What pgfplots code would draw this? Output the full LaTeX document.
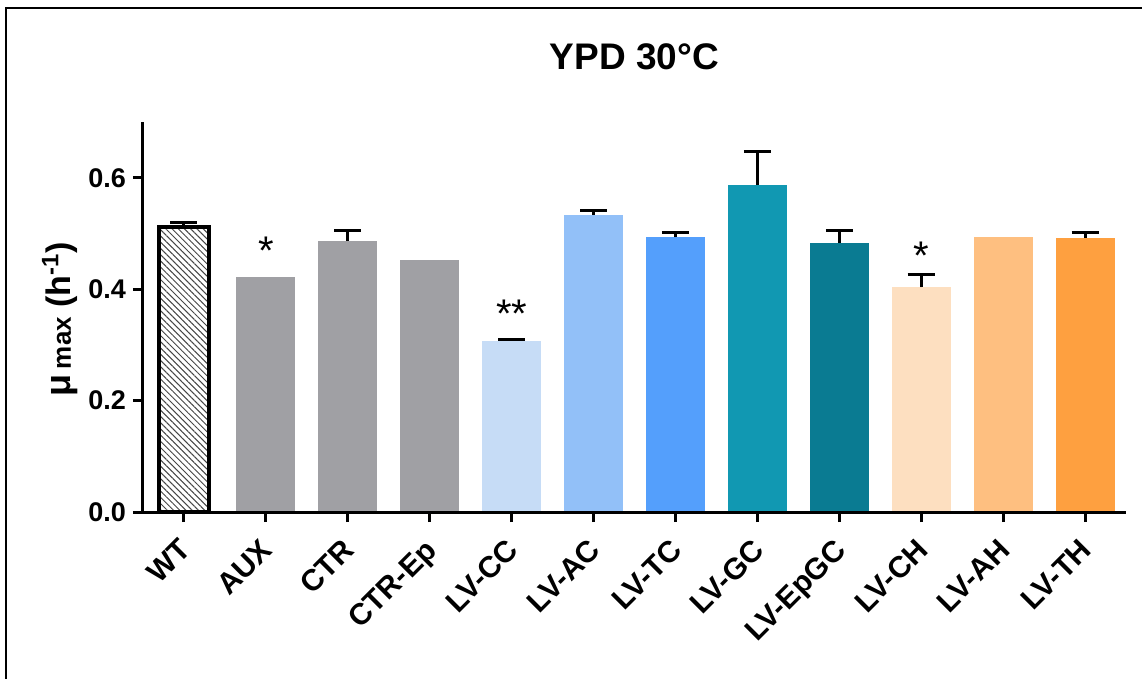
\documentclass[border=0pt]{standalone}
\usepackage{fontspec}
\setmainfont{Liberation Sans}
\usepackage{pgfplots}
\pgfplotsset{compat=1.18}
\usetikzlibrary{patterns.meta}

\definecolor{cGray}{RGB}{160,160,164}
\definecolor{cCC}{RGB}{198,220,246}
\definecolor{cAC}{RGB}{146,192,248}
\definecolor{cTC}{RGB}{84,159,252}
\definecolor{cGC}{RGB}{17,152,178}
\definecolor{cEpGC}{RGB}{10,123,146}
\definecolor{cCH}{RGB}{253,223,192}
\definecolor{cAH}{RGB}{254,191,128}
\definecolor{cTH}{RGB}{254,160,64}
\definecolor{hatch}{RGB}{70,70,70}

\pgfplotsset{
  onebar/.style={ybar, bar width=0.72, bar shift=0pt, draw=none},
  witherr/.style={
    error bars/.cd,
      y dir=plus, y explicit,
      error mark=|,
      error bar style={line width=1.5pt, black},
      error mark options={line width=1.5pt, black, mark size=6.75pt},
  },
}

\begin{document}
\begin{tikzpicture}
\begin{axis}[
  at={(71.5pt,-256pt)}, anchor=south west,
  scale only axis, width=491.5pt, height=195pt,
  xmin=-0.5, xmax=11.5, ymin=0, ymax=0.7,
  axis x line*=bottom, axis y line*=left,
  axis line style={line width=1.5pt, black, -},
  every tick/.style={line width=1.5pt, black},
  tick align=outside, major tick length=5pt,
  xtick={0,...,11},
  xticklabels={WT,AUX,CTR,CTR-Ep,LV-CC,LV-AC,LV-TC,LV-GC,LV-EpGC,LV-CH,LV-AH,LV-TH},
  ytick={0,0.2,0.4,0.6},
  yticklabel style={font=\fontsize{13.5pt}{16pt}\selectfont\bfseries,
    /pgf/number format/.cd, fixed, fixed zerofill, precision=1, assume math mode=true},
  xticklabel style={font=\fontsize{15pt}{18pt}\selectfont\bfseries,
    rotate=45, anchor=north east, inner sep=1pt, xshift=-6.5pt, yshift=-2pt},
  title={YPD 30°C},
  title style={font=\fontsize{18.5pt}{22pt}\selectfont\bfseries, at={(axis description cs:0.5,1.136)}, anchor=center},
  ylabel={{\fontsize{18pt}{20pt}\selectfont μ}\,{\fontsize{13pt}{15pt}\selectfont max} (h\textsuperscript{-1})},
  ylabel style={font=\fontsize{17pt}{20pt}\selectfont\bfseries, at={(axis description cs:-0.0844,0.494)}, anchor=center},
  axis on top,
]
% WT: hatched, black outline
\addplot[ybar, bar width=0.61, bar shift=0pt, draw=black, line width=2.2pt,
  pattern={Lines[angle=-45, distance=2.2pt, line width=0.5pt]}, pattern color=hatch, witherr]
  coordinates {(0,0.512) +- (0,0.007)};
% reference strains
\addplot[onebar, fill=cGray] coordinates {(1,0.422)};
\addplot[onebar, fill=cGray, witherr] coordinates {(2,0.487) +- (0,0.019)};
\addplot[onebar, fill=cGray] coordinates {(3,0.452)};
% C-series
\addplot[onebar, fill=cCC, witherr] coordinates {(4,0.307) +- (0,0.003)};
\addplot[onebar, fill=cAC, witherr] coordinates {(5,0.533) +- (0,0.009)};
\addplot[onebar, fill=cTC, witherr] coordinates {(6,0.493) +- (0,0.009)};
\addplot[onebar, fill=cGC, witherr] coordinates {(7,0.587) +- (0,0.060)};
\addplot[onebar, fill=cEpGC, witherr] coordinates {(8,0.483) +- (0,0.023)};
% H-series
\addplot[onebar, fill=cCH, witherr] coordinates {(9,0.403) +- (0,0.023)};
\addplot[onebar, fill=cAH] coordinates {(10,0.493)};
\addplot[onebar, fill=cTH, witherr] coordinates {(11,0.492) +- (0,0.010)};
% significance marks
\node[font=\fontsize{20pt}{22pt}\selectfont, anchor=north, inner sep=0pt] at (axis cs:1,0.495) {*};
\node[font=\fontsize{20pt}{22pt}\selectfont, anchor=north, inner sep=0pt] at (axis cs:4,0.381) {**};
\node[font=\fontsize{20pt}{22pt}\selectfont, anchor=north, inner sep=0pt] at (axis cs:9,0.485) {*};
\end{axis}
% frame
\draw[line width=1.1pt, black] (3pt,-345pt) -- (3pt,-3.9pt) -- (580pt,-3.9pt);
\pgfresetboundingbox
\path[use as bounding box] (0,0) rectangle (571pt,-339.5pt);
\end{tikzpicture}
\end{document}
